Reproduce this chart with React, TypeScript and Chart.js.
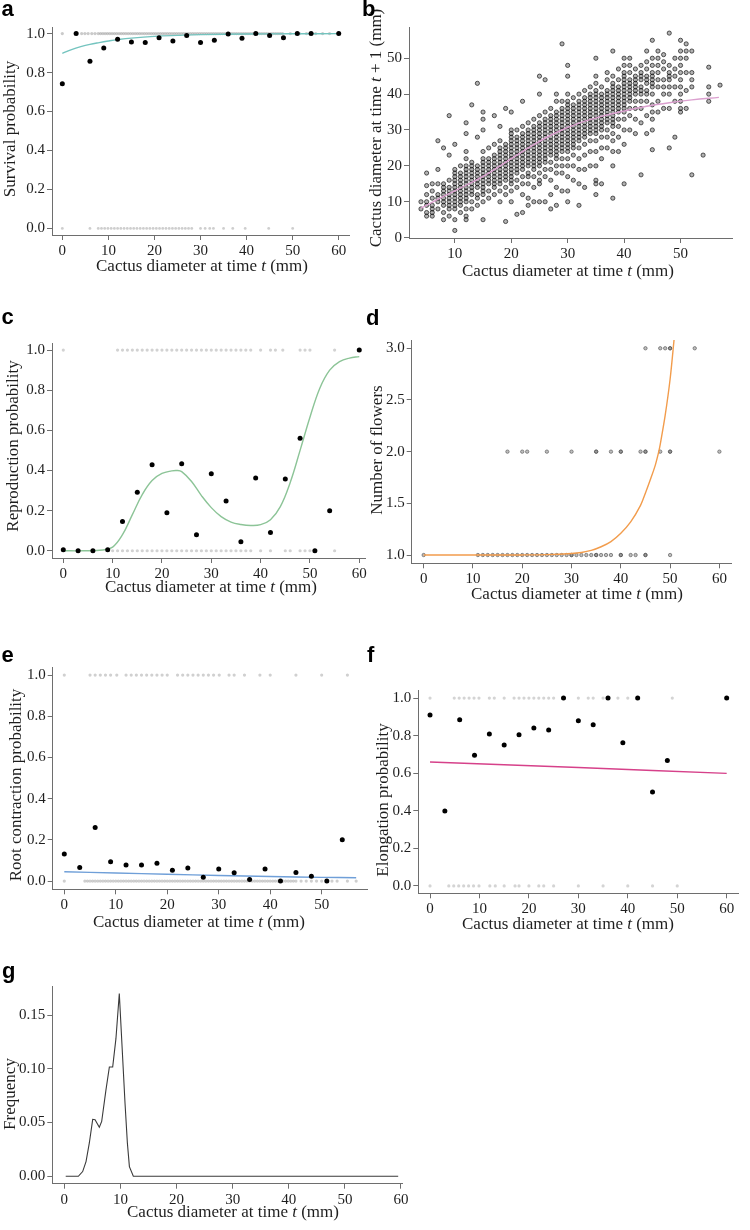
import React, { useEffect, useRef } from "react";
import { Chart, registerables } from "chart.js";
Chart.register(...registerables);

const SERIF = "'Liberation Serif', 'Times New Roman', Times, serif";
const SANS = "'Liberation Sans', Arial, Helvetica, sans-serif";
const AXIS = "#6e6e6e";
const TXT = "#1e1e1e";

// ---------- panel a : survival ----------
const survMeanX = [0, 3, 6, 9, 12, 15, 18, 21, 24, 27, 30, 33, 36, 39, 42, 45, 48, 51, 54, 60];
const survMeanY = [0.743, 1.0, 0.858, 0.926, 0.971, 0.957, 0.955, 0.979, 0.962, 0.99, 0.954, 0.966, 0.998, 0.976, 1.0, 0.99, 0.979, 1.0, 1.0, 1.0];
const survFitX = [0, 2, 4, 6, 8, 10, 12, 15, 20, 25, 30, 40, 50, 60];
const survFitY = [0.899, 0.918, 0.933, 0.945, 0.954, 0.962, 0.969, 0.977, 0.986, 0.991, 0.995, 0.998, 0.999, 1.0];
const survAliveX = [0, 4.2, 4.9, 5.6, 6.4, 7.1, 7.8, 8.3, 8.8, 9.3, 9.8, 10.3, 10.8, 11.3, 11.8, 12.3, 12.8, 13.3, 13.8, 14.3, 14.8, 15.3, 15.8, 16.3, 16.8, 17.3, 17.8, 18.3, 18.8, 19.3, 19.8, 20.3, 20.8, 21.3, 21.8, 22.3, 22.8, 23.3, 23.8, 24.3, 24.8, 25.3, 25.8, 26.3, 26.8, 27.3, 27.8, 28.3, 28.8, 29.3, 29.8, 30.3, 30.8, 31.3, 31.8, 32.3, 32.8, 33.3, 33.8, 34.3, 34.8, 35.3, 35.8, 36.3, 36.8, 37.3, 37.8, 38.3, 38.8, 39.3, 39.8, 40.3, 40.8, 41.3, 41.8, 42.3, 42.8, 43.3, 43.8, 44.3, 44.8, 45.3, 45.8, 46.3, 46.8, 47.3, 47.8, 49.5, 51.5, 53, 55, 56.5, 58];
const survDeadX = [0, 6, 7.8, 8.5, 9.2, 9.9, 10.6, 11.3, 12, 12.7, 13.4, 14.1, 14.8, 15.5, 16.2, 16.9, 17.6, 18.3, 19, 19.7, 20.4, 21.1, 21.8, 22.5, 23.2, 23.9, 24.6, 25.3, 26, 26.7, 27.4, 28.1, 30, 31, 32, 32.8, 35, 37, 39.7, 44.8, 50];

// ---------- panel b : growth (columns: x, then y values) ----------
const growthCols: number[][] = [
  [4, 8, 10],
  [5, 6, 7, 9, 10, 12, 14.5, 18],
  [6, 6, 7, 8, 9, 11, 13, 15],
  [7, 8, 10, 11, 12, 15, 19, 27],
  [8, 5, 7, 9, 10, 11, 12, 13, 14, 15, 25],
  [9, 6, 8, 9, 10, 11, 12, 13, 14, 16, 23, 34],
  [10, 2, 5, 8, 9, 10, 11, 12, 13, 14, 15, 16, 17, 18, 19, 26],
  [11, 7, 9, 10, 11, 12, 13, 14, 15, 16, 17, 18, 20],
  [12, 5, 6, 8, 10, 11, 12, 13, 14, 15, 16, 17, 18, 19, 20, 22, 24, 29, 32],
  [13, 8, 10, 12, 13, 14, 15, 16, 17, 18, 19, 20, 21, 37],
  [14, 9, 11, 12, 14, 15, 16, 17, 18, 19, 20, 28, 43],
  [15, 5, 10, 12, 13, 14, 15, 16, 17, 18, 19, 20, 21, 22, 24, 30, 33, 35],
  [16, 11, 13, 15, 16, 17, 18, 19, 20, 21, 22, 25],
  [17, 12, 14, 15, 16, 17, 18, 19, 20, 21, 22, 23, 26, 34],
  [18, 10, 13, 15, 16, 17, 18, 19, 20, 21, 22, 23, 24, 25, 27, 31],
  [19, 4.5, 12, 14, 16, 17, 18, 19, 20, 21, 22, 23, 24, 25, 26, 36],
  [20, 10, 13, 15, 16, 17, 18, 19, 20, 21, 22, 23, 24, 25, 26, 27, 28, 29, 30, 35],
  [21, 6.5, 14, 16, 18, 19, 20, 21, 22, 23, 24, 25, 26, 27, 28, 30],
  [22, 7, 12, 15, 17, 19, 20, 21, 22, 23, 24, 25, 26, 27, 28, 29, 31, 38],
  [23, 9, 11, 15, 17, 18, 20, 21, 22, 23, 24, 25, 26, 27, 28, 29, 30, 32],
  [24, 10, 14, 17, 19, 20, 21, 22, 23, 24, 25, 26, 27, 28, 29, 30, 31, 33],
  [25, 10, 15, 16, 18, 20, 21, 22, 23, 24, 25, 26, 27, 28, 29, 30, 31, 32, 34, 40, 45],
  [26, 10, 17, 19, 21, 22, 23, 24, 25, 26, 27, 28, 29, 30, 31, 32, 33, 35, 44],
  [27, 8, 12, 16, 19, 21, 23, 24, 25, 26, 27, 28, 29, 30, 31, 32, 33, 34, 36],
  [28, 9, 14, 18, 20, 22, 23, 24, 25, 26, 27, 28, 29, 30, 31, 32, 33, 34, 35, 38, 40],
  [29, 13, 18, 20, 22, 24, 25, 26, 27, 28, 29, 30, 31, 32, 33, 34, 35, 36, 38, 54],
  [30, 10, 13, 17, 20, 22, 24, 25, 26, 27, 28, 29, 30, 31, 32, 33, 34, 35, 36, 37, 38, 40, 45, 48],
  [31, 16, 20, 23, 25, 26, 27, 28, 29, 30, 31, 32, 33, 34, 35, 36, 37, 39],
  [32, 9, 15, 19, 22, 25, 27, 28, 29, 30, 31, 32, 33, 34, 35, 36, 37, 38, 40],
  [33, 14, 19, 23, 26, 28, 29, 30, 31, 32, 33, 34, 35, 36, 37, 38, 39, 41],
  [34, 20, 24, 27, 29, 30, 31, 32, 33, 34, 35, 36, 37, 38, 39, 40, 42],
  [35, 12, 15, 16, 20, 24, 27, 29, 30, 31, 32, 33, 34, 35, 36, 37, 38, 39, 40, 41, 43, 45, 50],
  [36, 15, 22, 25, 28, 30, 31, 32, 33, 34, 35, 36, 37, 38, 39, 40, 42],
  [37, 25, 28, 30, 32, 33, 34, 35, 36, 37, 38, 39, 40, 41, 44, 46],
  [38, 11, 20, 24, 27, 29, 31, 32, 33, 34, 35, 36, 37, 38, 39, 40, 41, 42, 43, 45, 52],
  [39, 24, 28, 31, 33, 35, 36, 37, 38, 39, 40, 41, 42, 44, 47],
  [40, 15, 26, 30, 33, 35, 36, 37, 38, 39, 40, 41, 42, 43, 44, 45, 46, 48, 50],
  [41, 30, 34, 36, 38, 39, 40, 41, 42, 43, 44, 46, 48, 50],
  [42, 29, 33, 36, 38, 40, 41, 42, 43, 44, 45, 47],
  [43, 17.5, 32, 36, 38, 40, 41, 42, 44, 45, 46, 48],
  [44, 29, 34, 38, 40, 41, 43, 44, 45, 47, 49, 52],
  [45, 24.5, 30, 33, 35, 37, 40, 42, 43, 44, 45, 46, 48, 50, 55],
  [46, 35, 38, 42, 44, 46, 48, 50, 52],
  [47, 36, 40, 42, 44, 47, 49, 51],
  [48, 25, 36, 40, 42, 44, 45, 46, 48, 57],
  [49, 28, 38, 42, 45, 47, 50],
  [50, 35, 36, 38, 40, 42, 44, 46, 48, 50, 52, 55],
  [51, 36, 41, 46, 50, 52, 54],
  [52, 17.5, 42, 44, 46, 52],
  [54, 23],
  [55, 38, 40, 42, 47.5],
  [57, 42.5],
];
const growthFitX = [4, 8, 12, 16, 20, 24, 28, 32, 36, 40, 44, 48, 52, 56.8];
const growthFitY = [8.2, 11.5, 14.6, 18.0, 22.0, 25.9, 29.3, 31.9, 33.8, 35.3, 36.6, 37.6, 38.4, 39.1];

// ---------- panel c : reproduction ----------
const reproMeanX = [0, 3, 6, 9, 12, 15, 18, 21, 24, 27, 30, 33, 36, 39, 42, 45, 48, 51, 54, 60];
const reproMeanY = [0.005, 0, 0, 0.005, 0.146, 0.292, 0.429, 0.189, 0.434, 0.08, 0.384, 0.248, 0.045, 0.362, 0.091, 0.357, 0.561, 0, 0.199, 1.0];
const reproFitX = [0, 4, 8, 10, 12, 14, 16, 18, 20, 22, 23, 24, 26, 28, 30, 32, 34, 36, 38, 40, 42, 44, 46, 48, 50, 52, 54, 56, 58, 60];
const reproFitY = [0, 0, 0.004, 0.018, 0.08, 0.18, 0.28, 0.35, 0.385, 0.398, 0.4, 0.394, 0.345, 0.275, 0.215, 0.17, 0.143, 0.131, 0.126, 0.13, 0.155, 0.22, 0.34, 0.5, 0.665, 0.81, 0.9, 0.942, 0.96, 0.967];
const reproYesX = [0, 11, 12, 13, 14, 15, 16, 17, 18, 19, 20, 21, 22, 23, 24, 25, 26, 27, 28, 29, 30, 31, 32, 33, 34, 35, 36, 37, 38, 40, 42, 43, 44.5, 48, 49, 50, 55];
const reproNoX = [3, 6, 10, 11, 12, 13, 14, 15, 16, 17, 18, 19, 20, 21, 22, 23, 24, 25, 26, 27, 28, 29, 30, 31, 32, 33, 34, 35, 36, 37, 38, 40, 42, 45, 46, 48, 49, 50, 55];

// ---------- panel d : number of flowers ----------
const flowers3X = [45, 48, 49, 50, 50, 55];
const flowers2X = [17, 20, 21, 25, 30, 35, 35, 38, 40, 40, 44, 45, 45, 48, 50, 50, 60];
const flowers1X = [0, 11, 12, 13, 14, 15, 16, 17, 18, 19, 20, 21, 22, 23, 24, 25, 26, 27, 28, 29, 30, 30, 31, 32, 33, 34, 35, 35, 36, 37, 38, 40, 40, 42, 43, 45, 45, 50];
const flowerFitX = [0, 10, 20, 25, 30, 32, 34, 36, 38, 40, 42, 44, 45, 46, 47, 47.7, 48, 49, 50, 50.8];
const flowerFitY = [1.0, 1.0, 1.001, 1.004, 1.015, 1.025, 1.045, 1.08, 1.13, 1.21, 1.32, 1.48, 1.6, 1.73, 1.87, 2.0, 2.07, 2.35, 2.7, 3.08];

// ---------- panel e : root contraction ----------
const rootMeanX = [0, 3, 6, 9, 12, 15, 18, 21, 24, 27, 30, 33, 36, 39, 42, 45, 48, 51, 54];
const rootMeanY = [0.131, 0.066, 0.26, 0.094, 0.078, 0.078, 0.086, 0.053, 0.063, 0.018, 0.058, 0.04, 0.008, 0.058, 0, 0.042, 0.023, 0, 0.2];
const rootFitX = [0, 10, 20, 30, 40, 50, 56.7];
const rootFitY = [0.045, 0.039, 0.033, 0.027, 0.022, 0.018, 0.016];
const rootYesX = [0, 5, 6, 7, 8, 9, 10.2, 12, 13, 14, 15, 16, 17, 18, 19, 20, 22, 23, 24, 25, 26, 27, 28, 29, 30.1, 32, 33, 35, 38, 40, 45, 50, 55];
const rootNoX = [0, 4, 4.5, 5, 5.5, 6, 6.5, 7, 7.5, 8, 8.5, 9, 9.5, 10, 10.5, 11, 11.5, 12, 12.5, 13, 13.5, 14, 14.5, 15, 15.5, 16, 16.5, 17, 17.5, 18, 18.5, 19, 19.5, 20, 20.5, 21, 21.5, 22, 22.5, 23, 23.5, 24, 24.5, 25, 25.5, 26, 26.5, 27, 27.5, 28, 28.5, 29, 29.5, 30, 30.5, 31, 31.5, 32, 32.5, 33, 33.5, 34, 34.5, 35, 35.5, 36, 36.5, 37, 37.5, 38, 38.5, 39, 39.5, 40, 40.5, 41, 41.5, 42, 42.5, 43, 43.5, 44, 44.5, 45, 46, 47, 48, 49, 50, 51, 52, 53, 55, 56.7];

// ---------- panel f : elongation ----------
const elongMeanX = [0, 3, 6, 9, 12, 15, 18, 21, 24, 27, 30, 33, 36, 39, 42, 45, 48, 60];
const elongMeanY = [0.91, 0.399, 0.885, 0.695, 0.809, 0.75, 0.805, 0.84, 0.83, 1.0, 0.879, 0.858, 1.0, 0.762, 1.0, 0.5, 0.667, 1.0];
const elongFitX = [0, 30, 60];
const elongFitY = [0.66, 0.63, 0.599];
const elongYesX = [0, 4.9, 5.9, 6.9, 7.9, 8.9, 9.9, 12, 13, 15, 17, 18, 19, 20, 21, 22, 23, 24, 25, 30, 32, 33, 35, 38, 40, 49];
const elongNoX = [0, 3.8, 4.8, 5.8, 6.8, 7.8, 8.8, 9.9, 12.1, 13.2, 15, 17.2, 18, 20, 22, 23, 25, 30, 35, 40, 45, 50];

// ---------- panel g : size distribution ----------
const densX = [0.25, 2.5, 3.27, 3.87, 4.46, 5.06, 5.48, 6.24, 6.66, 7.43, 8.03, 8.62, 9.2, 9.8, 10.82, 11.24, 11.6, 12.3, 59.5];
const densY = [0, 0, 0.0044, 0.0137, 0.031, 0.053, 0.0526, 0.0457, 0.051, 0.0806, 0.1017, 0.1017, 0.128, 0.170, 0.068, 0.031, 0.009, 0, 0];

// ---------- ticks ----------
const ticks0to60 = [0, 10, 20, 30, 40, 50, 60];
const ticks0to50 = [0, 10, 20, 30, 40, 50];
const ticks10to50 = [10, 20, 30, 40, 50];
const ticksProb = [0, 0.2, 0.4, 0.6, 0.8, 1.0];
const ticksFlowers = [1, 1.5, 2, 2.5, 3];
const ticksFreq = [0, 0.05, 0.1, 0.15];

// ---------- helpers ----------
const pts = (xs: number[], ys: number[]) => xs.map((x, i) => ({ x, y: ys[i] }));
const row = (xs: number[], y: number) => xs.map((x) => ({ x, y }));
const cols = (c: number[][]) => {
  const out: { x: number; y: number }[] = [];
  c.forEach((r) => r.slice(1).forEach((y) => out.push({ x: r[0], y })));
  return out;
};

const meanSet = (data: any[]) => ({ data, pointRadius: 2.5, pointBackgroundColor: "#000", pointBorderWidth: 0, order: 0 });
const rawSet = (data: any[], color: string, r = 1.6) => ({ data, pointRadius: r, pointBackgroundColor: color, pointBorderWidth: 0, order: 2 });
const lineSet = (data: any[], color: string, tension = 0.4) => ({
  data, showLine: true, borderColor: color, borderWidth: 1.4, pointRadius: 0, fill: false,
  cubicInterpolationMode: "default", tension, order: 1,
});

type Seg = { t: string; i?: boolean };
const xTitle: Seg[] = [{ t: "Cactus diameter at time " }, { t: "t", i: true }, { t: " (mm)" }];

function drawRich(ctx: CanvasRenderingContext2D, segs: Seg[], x: number, y: number, rotate: boolean) {
  ctx.save();
  ctx.translate(x, y);
  if (rotate) ctx.rotate(-Math.PI / 2);
  const fonts = segs.map((s) => `${s.i ? "italic " : ""}17px ${SERIF}`);
  let total = 0;
  const widths = segs.map((s, k) => {
    ctx.font = fonts[k];
    const w = ctx.measureText(s.t).width;
    total += w;
    return w;
  });
  let cx = -total / 2;
  ctx.fillStyle = TXT;
  ctx.textAlign = "left";
  ctx.textBaseline = rotate ? "alphabetic" : "middle";
  segs.forEach((s, k) => {
    ctx.font = fonts[k];
    ctx.fillText(s.t, cx, 0);
    cx += widths[k];
  });
  ctx.restore();
}

type Axis = { min: number; max: number; ticks: number[]; dec: number };
type Spec = {
  box: [number, number, number, number];
  area: [number, number, number, number];
  x: Axis;
  y: Axis;
  datasets: any[];
  xt: [number, number];
  yt: { segs: Seg[]; bx: number; cy: number };
};

function Panel({ spec }: { spec: Spec }) {
  const ref = useRef<HTMLCanvasElement>(null);
  useEffect(() => {
    const [bl, bt, bw, bh] = spec.box;
    const [L, T, R, B] = spec.area;
    const titles = {
      id: "titles",
      afterDraw(chart: any) {
        const ctx = chart.ctx;
        drawRich(ctx, xTitle, spec.xt[0] - bl, spec.xt[1] - bt, false);
        drawRich(ctx, spec.yt.segs, spec.yt.bx - bl, spec.yt.cy - bt, true);
      },
    };
    const mk = (ax: Axis, isX: boolean) => ({
      type: "linear",
      position: isX ? "bottom" : "left",
      bounds: "data",
      min: ax.min,
      max: ax.max,
      afterBuildTicks: (s: any) => {
        s.ticks = ax.ticks.map((v) => ({ value: v }));
      },
      afterFit: (s: any) => {
        if (isX) s.height = bt + bh - B;
        else s.width = L - bl;
      },
      grid: { display: true, drawOnChartArea: false, drawTicks: true, tickLength: 5, color: AXIS, lineWidth: 1 },
      border: { display: true, color: AXIS, width: 1 },
      ticks: {
        color: TXT, font: { family: SERIF, size: 15 }, padding: 2, autoSkip: false, maxRotation: 0, minRotation: 0,
        callback: (v: any) => Number(v).toFixed(ax.dec),
      },
    });
    const chart = new Chart(ref.current as HTMLCanvasElement, {
      type: "scatter",
      data: { datasets: spec.datasets },
      options: {
        animation: false,
        responsive: false,
        devicePixelRatio: 1,
        layout: { padding: { left: 0, bottom: 0, top: T - bt, right: bl + bw - R } },
        plugins: { legend: { display: false }, tooltip: { enabled: false } },
        scales: { x: mk(spec.x, true), y: mk(spec.y, false) } as any,
      },
      plugins: [titles],
    } as any);
    return () => chart.destroy();
  }, []);
  const [bl, bt, bw, bh] = spec.box;
  return <canvas ref={ref} width={bw} height={bh} style={{ position: "absolute", left: bl, top: bt, width: bw, height: bh }} />;
}

const probTitle = (w: string): Seg[] => [{ t: w }];

const specs: Spec[] = [
  {
    box: [0, 0, 375, 300], area: [52, 27, 349, 235],
    x: { min: -2.24, max: 62.23, ticks: ticks0to60, dec: 0 },
    y: { min: -0.034, max: 1.034, ticks: ticksProb, dec: 1 },
    datasets: [
      meanSet(pts(survMeanX, survMeanY)),
      lineSet(pts(survFitX, survFitY), "#74c4bf"),
      rawSet(row(survAliveX, 1), "rgba(150,150,150,0.5)"),
      rawSet(row(survDeadX, 0), "rgba(185,185,185,0.7)", 1.4),
    ],
    xt: [202, 267], yt: { segs: probTitle("Survival probability"), bx: 15, cy: 129 },
  },
  {
    box: [360, 0, 390, 300], area: [409, 27, 732, 238],
    x: { min: 1.88, max: 59.12, ticks: ticks10to50, dec: 0 },
    y: { min: -0.1, max: 58.7, ticks: ticks0to50, dec: 0 },
    datasets: [
      { ...lineSet(pts(growthFitX, growthFitY), "#dba0cf"), order: 0 },
      { data: cols(growthCols), pointRadius: 2.1, pointBackgroundColor: "rgba(0,0,0,0.3)", pointBorderColor: "rgba(0,0,0,0.7)", pointBorderWidth: 0.9, order: 1 },
    ],
    xt: [568, 272],
    yt: { segs: [{ t: "Cactus diameter at time " }, { t: "t", i: true }, { t: " + 1 (mm)" }], bx: 381, cy: 128 },
  },
  {
    box: [0, 300, 375, 310], area: [52, 343, 365, 558],
    x: { min: -2.29, max: 61.16, ticks: ticks0to60, dec: 0 },
    y: { min: -0.036, max: 1.035, ticks: ticksProb, dec: 1 },
    datasets: [
      meanSet(pts(reproMeanX, reproMeanY)),
      lineSet(pts(reproFitX, reproFitY), "#8cc497"),
      rawSet(row(reproYesX, 1), "#d2d2d2"),
      rawSet(row(reproNoX, 0), "#d2d2d2"),
    ],
    xt: [211, 588], yt: { segs: probTitle("Reproduction probability"), bx: 18, cy: 446 },
  },
  {
    box: [360, 300, 390, 310], area: [411.7, 340, 731.7, 563.3],
    x: { min: -2.43, max: 62.5, ticks: ticks0to60, dec: 0 },
    y: { min: 0.92, max: 3.08, ticks: ticksFlowers, dec: 1 },
    datasets: [
      { ...lineSet(pts(flowerFitX, flowerFitY), "#f29c4c", 0.3), order: 0 },
      { data: [...row(flowers3X, 3), ...row(flowers2X, 2), ...row(flowers1X, 1)], pointRadius: 1.7, pointBackgroundColor: "rgba(110,110,110,0.45)", pointBorderColor: "rgba(70,70,70,0.8)", pointBorderWidth: 0.7, order: 1 },
    ],
    xt: [577, 595], yt: { segs: probTitle("Number of flowers"), bx: 382, cy: 450 },
  },
  {
    box: [0, 640, 375, 300], area: [52.7, 667, 367.7, 889.3],
    x: { min: -2.25, max: 58.94, ticks: ticks0to50, dec: 0 },
    y: { min: -0.04, max: 1.039, ticks: ticksProb, dec: 1 },
    datasets: [
      meanSet(pts(rootMeanX, rootMeanY)),
      lineSet(pts(rootFitX, rootFitY), "#6f9fd8"),
      rawSet(row(rootYesX, 1), "#d0d0d0"),
      rawSet(row(rootNoX, 0), "rgba(160,160,160,0.5)"),
    ],
    xt: [199, 923], yt: { segs: probTitle("Root contraction probability"), bx: 21, cy: 785 },
  },
  {
    box: [360, 640, 390, 300], area: [418.3, 690.7, 738.3, 893.3],
    x: { min: -2.37, max: 62.35, ticks: ticks0to60, dec: 0 },
    y: { min: -0.039, max: 1.039, ticks: ticksProb, dec: 1 },
    datasets: [
      meanSet(pts(elongMeanX, elongMeanY)),
      lineSet(pts(elongFitX, elongFitY), "#d6418a"),
      rawSet(row(elongYesX, 1), "#d4d4d4"),
      rawSet(row(elongNoX, 0), "#d4d4d4"),
    ],
    xt: [568, 925], yt: { segs: probTitle("Elongation probability"), bx: 388, cy: 800 },
  },
  {
    box: [0, 950, 420, 280], area: [52.3, 986, 402, 1183.7],
    x: { min: -2.14, max: 60.18, ticks: ticks0to60, dec: 0 },
    y: { min: -0.0069, max: 0.177, ticks: ticksFreq, dec: 2 },
    datasets: [{ ...lineSet(pts(densX, densY), "#3a3a3a", 0), borderWidth: 1.1 }],
    xt: [233, 1213], yt: { segs: probTitle("Frequency"), bx: 15, cy: 1094 },
  },
];

const labels: [string, number, number][] = [
  ["a", 1.5, 17],
  ["b", 362, 17],
  ["c", 1.5, 325],
  ["d", 366, 326],
  ["e", 1.5, 663],
  ["f", 367, 663],
  ["g", 2, 979],
];

export default function App() {
  return (
    <div style={{ position: "absolute", left: 0, top: 0, width: 750, height: 1230, background: "#fff", overflow: "hidden" }}>
      {specs.map((s, i) => (
        <Panel key={i} spec={s} />
      ))}
      {labels.map(([t, x, b]) => (
        <div
          key={t}
          style={{ position: "absolute", left: x, top: b - 18.6, fontFamily: SANS, fontWeight: "bold", fontSize: 22, lineHeight: "22px", color: "#000" }}
        >
          {t}
        </div>
      ))}
    </div>
  );
}
